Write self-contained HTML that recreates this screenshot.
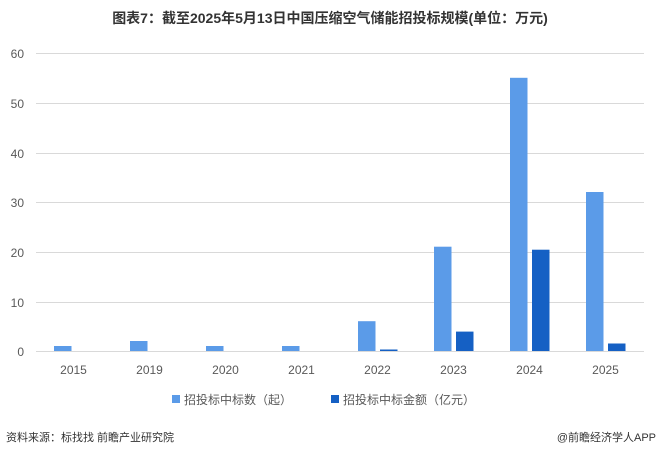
<!DOCTYPE html>
<html><head><meta charset="utf-8"><style>
body{margin:0;background:#fff;width:660px;height:456px;overflow:hidden;font-family:"Liberation Sans","Noto Sans CJK SC",sans-serif}
</style></head><body>
<svg width="660" height="456" xmlns="http://www.w3.org/2000/svg" font-family="Liberation Sans, Noto Sans CJK SC, sans-serif">
<text x="330" y="23" text-anchor="middle" font-size="14" font-weight="bold" fill="#333">图表7：截至2025年5月13日中国压缩空气储能招投标规模(单位：万元)</text>
<g stroke="#d9d9d9" stroke-width="1">
<line x1="36" x2="644" y1="53.5" y2="53.5"/><line x1="36" x2="644" y1="103.5" y2="103.5"/><line x1="36" x2="644" y1="153.5" y2="153.5"/><line x1="36" x2="644" y1="202.5" y2="202.5"/><line x1="36" x2="644" y1="252.5" y2="252.5"/><line x1="36" x2="644" y1="302.5" y2="302.5"/><line x1="36" x2="644" y1="351.5" y2="351.5"/>
</g>
<g font-size="12" fill="#595959" text-anchor="end">
<text x="24" y="58">60</text><text x="24" y="108">50</text><text x="24" y="158">40</text><text x="24" y="207">30</text><text x="24" y="257">20</text><text x="24" y="307">10</text><text x="24" y="356">0</text>
</g>
<g fill="#5b9be8">
<rect x="54" y="346" width="17.5" height="5"/>
<rect x="130" y="341" width="17.5" height="10"/>
<rect x="206" y="346" width="17.5" height="5"/>
<rect x="282" y="346" width="17.5" height="5"/>
<rect x="358" y="321.2" width="17.5" height="29.8"/>
<rect x="434" y="246.7" width="17.5" height="104.3"/>
<rect x="510" y="77.8" width="17.5" height="273.2"/>
<rect x="586" y="192" width="17.5" height="159"/>
</g>
<g fill="#1560c4">
<rect x="380" y="349.5" width="17.5" height="1.5"/>
<rect x="456" y="331.6" width="17.5" height="19.4"/>
<rect x="532" y="249.7" width="17.5" height="101.3"/>
<rect x="608" y="343.5" width="17.5" height="7.5"/>
</g>
<g font-size="12" fill="#595959" text-anchor="middle">
<text x="73.5" y="374">2015</text><text x="149.5" y="374">2019</text><text x="225.5" y="374">2020</text><text x="301.5" y="374">2021</text><text x="377.5" y="374">2022</text><text x="453.5" y="374">2023</text><text x="529.5" y="374">2024</text><text x="605.5" y="374">2025</text>
</g>
<rect x="172" y="395" width="8" height="8" fill="#5b9be8"/>
<text x="184" y="404" font-size="12" fill="#595959">招投标中标数（起）</text>
<rect x="331" y="395" width="8" height="8" fill="#1560c4"/>
<text x="343" y="404" font-size="12" fill="#595959">招投标中标金额（亿元）</text>
<text x="6" y="441" font-size="11" fill="#333">资料来源：标找找 前瞻产业研究院</text>
<text x="656" y="441" font-size="11" fill="#333" text-anchor="end">@前瞻经济学人APP</text>
</svg>
</body></html>
